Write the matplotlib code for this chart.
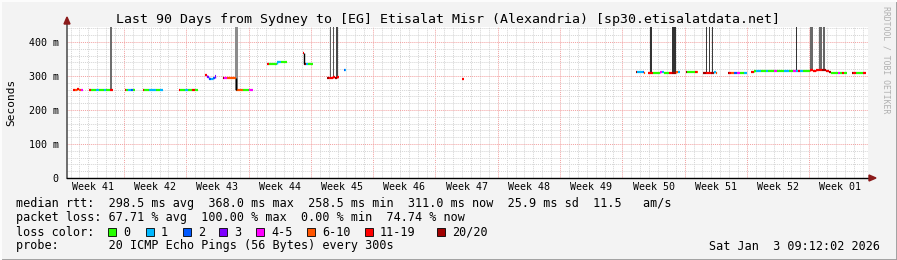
import matplotlib
matplotlib.use("Agg")
import matplotlib.pyplot as plt
from matplotlib.lines import Line2D
from matplotlib.patches import Rectangle, Polygon

plt.rcParams["font.family"] = ["DejaVu Sans Mono"]

# median rtt runs: days since left edge of graph, ms, pings lost (of 20)
run_start = [0.67, 0.90, 1.12, 1.35, 1.57,
             2.47, 2.70, 3.26, 3.60, 4.16, 4.38, 4.83,
             6.52, 6.63, 6.85, 7.19, 7.42,
             8.54, 8.65, 9.21, 10.0, 10.45,
             12.58, 12.70, 13.26, 13.60, 14.04, 14.38,
             15.51, 15.73, 15.96, 16.18, 16.40, 16.63,
             17.53, 17.64, 17.98, 18.99, 19.78, 20.45,
             22.47, 22.70, 23.60, 24.04,
             26.52, 26.63, 26.85, 27.08,
             29.21, 29.44, 29.89, 30.11, 30.34,
             31.12, 31.24,
             44.38,
             63.93, 64.04, 64.72, 64.83,
             65.28, 65.84, 66.63, 66.85, 67.08, 67.64, 67.98, 68.43, 68.65,
             69.55, 69.66, 70.56, 70.79,
             71.46, 71.80, 72.36, 72.70, 72.92,
             74.27, 74.38, 74.61, 74.94, 75.28, 75.62, 76.07,
             76.85, 77.19, 77.42, 77.98, 78.54, 78.76, 79.44, 79.78, 80.56, 81.12,
             81.57, 81.91, 82.13, 82.36, 82.70, 83.48, 83.82, 84.16, 84.49, 84.83,
             85.28, 85.62, 85.84, 86.63, 86.85, 87.08, 87.30,
             88.20, 88.31, 88.65, 89.44]
run_end = [0.90, 1.12, 1.35, 1.57, 1.80,
           2.70, 3.26, 3.60, 4.16, 4.38, 4.83, 5.17,
           6.63, 6.85, 7.19, 7.42, 7.64,
           8.65, 9.21, 10.0, 10.45, 10.79,
           12.70, 13.26, 13.60, 14.04, 14.38, 14.72,
           15.73, 15.96, 16.18, 16.40, 16.63, 16.74,
           17.64, 17.98, 18.99, 19.78, 20.45, 20.90,
           22.70, 23.60, 24.04, 24.72,
           26.63, 26.85, 27.08, 27.64,
           29.44, 29.89, 30.11, 30.34, 30.56,
           31.24, 31.35,
           44.61,
           64.04, 64.72, 64.83, 64.94,
           65.84, 66.63, 66.85, 67.08, 67.64, 67.98, 68.43, 68.65, 68.88,
           69.66, 70.56, 70.79, 70.90,
           71.80, 72.36, 72.70, 72.92, 73.03,
           74.38, 74.61, 74.94, 75.28, 75.62, 76.07, 76.40,
           77.19, 77.42, 77.98, 78.54, 78.76, 79.44, 79.78, 80.56, 81.12, 81.57,
           81.91, 82.13, 82.36, 82.70, 83.48, 83.82, 84.16, 84.49, 84.83, 85.28,
           85.62, 85.84, 86.63, 86.85, 87.08, 87.30, 87.64,
           88.31, 88.65, 89.44, 89.78]
run_ms = [258, 258, 261, 258, 258,
          258, 258, 258, 258, 258, 258, 260,
          260, 260, 260, 260, 260,
          260, 260, 260, 260, 260,
          260, 260, 260, 260, 260, 260,
          302, 296, 292, 292, 294, 300,
          294, 294, 295, 258, 258, 258,
          336, 336, 341, 340,
          369, 336, 336, 336,
          294, 293, 296, 294, 297,
          317, 317,
          292,
          312, 312, 312, 309,
          310, 310, 313, 312, 310, 310, 310, 312, 312,
          312, 312, 312, 312,
          310, 310, 310, 312, 309,
          310, 310, 310, 310, 309, 310, 310,
          313, 314, 316, 314, 315, 314, 315, 314, 314, 314,
          316, 316, 316, 315, 314, 318, 316, 318, 319, 317,
          316, 311, 310, 310, 310, 310, 310,
          310, 310, 310, 310]
run_loss = [15, 8, 15, 8, 4,
            15, 0, 1, 0, 1, 0, 15,
            15, 0, 1, 2, 0,
            15, 0, 1, 0, 1,
            15, 0, 1, 0, 15, 0,
            15, 3, 2, 1, 2, 3,
            20, 4, 8, 8, 0, 4,
            15, 0, 1, 0,
            15, 20, 1, 0,
            20, 15, 15, 20, 15,
            2, 1,
            15,
            20, 1, 2, 8,
            15, 0, 4, 1, 0, 15, 20, 8, 1,
            20, 0, 15, 8,
            20, 15, 20, 1, 8,
            20, 15, 8, 2, 4, 0, 1,
            15, 0, 1, 0, 1, 0, 4, 0, 1, 0,
            4, 1, 15, 1, 0, 15, 15, 15, 15, 20,
            15, 20, 0, 4, 0, 15, 0,
            20, 15, 0, 15]

# smoke (spread of the 20 pings)
smoke_day = [4.97, 8.65, 19.05, 19.33, 20.79, 29.21, 29.60, 29.94, 30.30,
             65.60, 68.20, 68.76, 71.85, 72.17, 72.50, 74.72,
             81.69, 81.97, 83.65, 84.16, 84.66, 85.05, 85.50]
smoke_width = [0.17, 0.10, 0.33, 0.10, 0.10, 0.10, 0.12, 0.10, 0.20,
               0.20, 0.45, 0.10, 0.12, 0.12, 0.12, 0.10,
               0.10, 0.10, 0.34, 0.10, 0.34, 0.22, 0.10]
smoke_lo = [258, 260, 258, 258, 258, 294, 293, 296, 296,
            310, 310, 312, 310, 310, 310, 310,
            316, 316, 318, 316, 319, 317, 316]
smoke_hi = [450, 294, 450, 450, 450, 450, 450, 450, 450,
            450, 450, 450, 450, 450, 450, 341,
            450, 450, 450, 450, 450, 450, 450]
smoke_shade = ["#6e6e6e", "#b4b4b4", "#8c8c8c", "#555555", "#777777", "#555555",
               "#606060", "#555555", "#4a4a4a", "#333333", "#333333", "#c8c8c8",
               "#3c3c3c", "#3c3c3c", "#3c3c3c", "#c0c0c0", "#333333", "#333333",
               "#6a6a6a", "#555555", "#6a6a6a", "#666666", "#333333"]

week_labels = ["Week 41", "Week 42", "Week 43", "Week 44", "Week 45", "Week 46", "Week 47",
               "Week 48", "Week 49", "Week 50", "Week 51", "Week 52", "Week 01"]
first_week_line = 6.4
y_ticks = [0, 100, 200, 300, 400]
y_labels = ["0", "100 m", "200 m", "300 m", "400 m"]

loss_names = ["0", "1", "2", "3", "4-5", "6-10", "11-19", "20/20"]
loss_colors = ["#26ff00", "#00b8ff", "#0059ff", "#7e00ff", "#ff00ff", "#ff5500", "#ff0000", "#a10000"]
loss_upper = [0, 1, 2, 3, 5, 10, 19, 20]


def loss_color(n):
    for up, c in zip(loss_upper, loss_colors):
        if n <= up:
            return c
    return loss_colors[-1]


W, H = 897, 260
fig = plt.figure(figsize=(W / 100, H / 100), dpi=100, facecolor="#f3f3f3")
ax = fig.add_axes([67 / W, (H - 178) / H, (868 - 67) / W, (178 - 27) / H])
ax.set_facecolor("white")
ax.set_xlim(0, 90)
ax.set_ylim(0, 444)

# grid
for d in range(91):
    x = first_week_line - 7 + d
    if 0 < x < 90:
        major = (d % 7 == 0)
        ax.axvline(x, color="#f2a0a0" if major else "#d4d4d4", lw=0.7,
                   ls=(0, (1, 1)), zorder=1)
for v in range(20, 444, 20):
    ax.axhline(v, color="#f2a0a0" if v % 100 == 0 else "#d4d4d4", lw=0.7,
               ls=(0, (1, 1)), zorder=1)

# smoke
for d, w, lo, hi, c in zip(smoke_day, smoke_width, smoke_lo, smoke_hi, smoke_shade):
    ax.bar(d, hi - lo, width=w, bottom=lo, color=c, linewidth=0, zorder=2)

# median line coloured by loss
cols = [loss_color(n) for n in run_loss]
lc = ax.hlines(run_ms, run_start, run_end, colors=cols, lw=1.6, zorder=4)
lc.set_capstyle("butt")
for i in range(1, len(run_start)):
    if abs(run_start[i] - run_end[i - 1]) < 1e-6 and run_ms[i] != run_ms[i - 1]:
        jump = abs(run_ms[i] - run_ms[i - 1])
        ax.vlines(run_start[i], min(run_ms[i], run_ms[i - 1]), max(run_ms[i], run_ms[i - 1]),
                  colors="black" if jump > 10 else cols[i], lw=1.0, zorder=4)

for s in ax.spines.values():
    s.set_visible(False)
ax.axvline(0, color="#555555", lw=1.2, zorder=5, clip_on=False, ymax=1.03)
ax.axhline(0, color="black", lw=1.0, zorder=5, clip_on=False, xmax=1.005)

ax.set_yticks(y_ticks)
ax.set_yticklabels(y_labels)
ax.set_xticks([first_week_line - 3.5 + 7 * k for k in range(len(week_labels))])
ax.set_xticklabels(week_labels)
ax.tick_params(axis="both", length=0, labelsize=7.2, colors="black")
ax.tick_params(axis="y", pad=6)
ax.tick_params(axis="x", pad=3)


def px(x, y):
    return x / W, (H - y) / H


fig.text(*px(11, 102), "Seconds", rotation=90, ha="center", va="center", fontsize=8)

# arrows
fig.add_artist(Polygon([px(64, 24), px(70, 24), px(67, 17)], closed=True,
                       transform=fig.transFigure, color="#8b1a1a"))
fig.add_artist(Polygon([px(869, 175), px(869, 181), px(876, 178)], closed=True,
                       transform=fig.transFigure, color="#8b1a1a"))

fig.text(*px(448, 19), "Last 90 Days from Sydney to [EG] Etisalat Misr (Alexandria) [sp30.etisalatdata.net]",
         ha="center", va="center", fontsize=9.5)
fig.text(*px(886, 60), "RRDTOOL / TOBI OETIKER", rotation=270, ha="center", va="center",
         fontsize=5.9, color="#b0b0b0")

fs = 8.5
fig.text(*px(16, 204), "median rtt:  298.5 ms avg  368.0 ms max  258.5 ms min  311.0 ms now  25.9 ms sd  11.5   am/s",
         ha="left", va="center", fontsize=fs)
fig.text(*px(16, 218), "packet loss: 67.71 % avg  100.00 % max  0.00 % min  74.74 % now",
         ha="left", va="center", fontsize=fs)
fig.text(*px(16, 232), "loss color:", ha="left", va="center", fontsize=fs)
box_x = [108, 146, 183, 219, 256, 307, 365, 437]
for bx, name, c in zip(box_x, loss_names, loss_colors):
    fig.add_artist(Rectangle(px(bx, 236), 8 / W, 8 / H, transform=fig.transFigure,
                             facecolor=c, edgecolor="black", lw=0.6))
    fig.text(*px(bx + 15, 232), name, ha="left", va="center", fontsize=fs)
fig.text(*px(16, 246), "probe:       20 ICMP Echo Pings (56 Bytes) every 300s",
         ha="left", va="center", fontsize=fs)
fig.text(*px(880, 246), "Sat Jan  3 09:12:02 2026", ha="right", va="center", fontsize=fs)

# frame
fig.add_artist(Line2D([0, 1], [0.5 / H, 0.5 / H], transform=fig.transFigure, color="#9a9a9a", lw=2))
fig.add_artist(Line2D([1 - 0.5 / W, 1 - 0.5 / W], [0, 1], transform=fig.transFigure, color="#9a9a9a", lw=2))
fig.add_artist(Line2D([0, 1], [1 - 0.5 / H, 1 - 0.5 / H], transform=fig.transFigure, color="#fcfcfc", lw=1.5))
fig.add_artist(Line2D([0.5 / W, 0.5 / W], [0, 1], transform=fig.transFigure, color="#fcfcfc", lw=1.5))

fig.savefig("out.png", dpi=100, facecolor=fig.get_facecolor())
